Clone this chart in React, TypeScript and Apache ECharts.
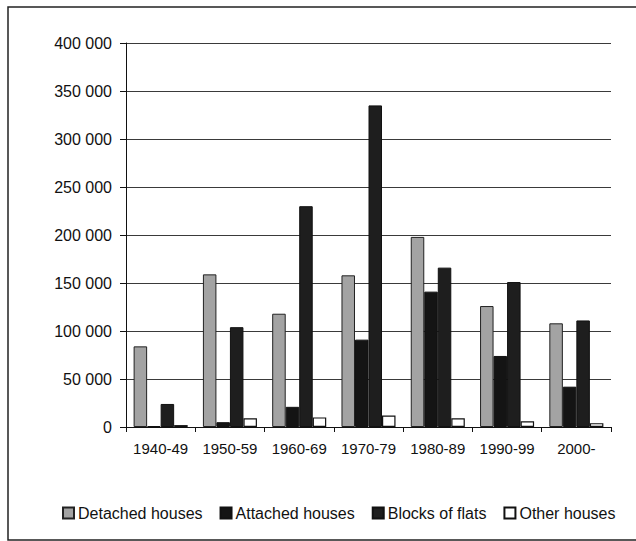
import React, { useEffect, useRef } from "react";
import * as echarts from "echarts";

const categories = ["1940-49", "1950-59", "1960-69", "1970-79", "1980-89", "1990-99", "2000-"];
const detached = [84000, 159000, 118000, 158000, 198000, 126000, 108000];
const attached = [1000, 5000, 21000, 91000, 141000, 74000, 42000];
const blocks = [24000, 104000, 230000, 335000, 166000, 151000, 111000];
const other = [2000, 9000, 10000, 12000, 9000, 6000, 4000];
const seriesNames = ["Detached houses", "Attached houses", "Blocks of flats", "Other houses"];

const fmt = (v: number) => {
  if (v === 0) return "0";
  const s = String(v);
  return s.slice(0, s.length - 3) + " " + s.slice(s.length - 3);
};

export default function App() {
  const ref = useRef<HTMLDivElement>(null);
  useEffect(() => {
    if (!ref.current) return;
    const chart = echarts.init(ref.current, null, { renderer: "svg" });
    const font = "'Liberation Sans', Arial, sans-serif";
    const barBase = { type: "bar", barGap: "0%", barCategoryGap: "22%" };
    chart.setOption({
      animation: false,
      backgroundColor: "#ffffff",
      textStyle: { fontFamily: font },
      graphic: [
        {
          type: "rect",
          shape: { x: 8, y: 7, width: 640, height: 533 },
          style: { fill: "none", stroke: "#222", lineWidth: 1.5 },
          z: 100,
        },
      ],
      grid: { left: 126, right: 25, top: 43, bottom: 114, containLabel: false },
      legend: {
        left: 57,
        top: 500,
        width: 600,
        itemWidth: 11,
        itemHeight: 11,
        itemGap: 17,
        icon: "rect",
        textStyle: { fontSize: 16, color: "#111", fontFamily: font, padding: [0, 0, 0, -1] },
        data: seriesNames,
      },
      xAxis: {
        type: "category",
        data: categories,
        axisLine: { lineStyle: { color: "#111", width: 1 } },
        axisTick: { show: true, alignWithLabel: false, length: 5, lineStyle: { color: "#111" } },
        axisLabel: { interval: 0, fontSize: 15, color: "#111", margin: 14, fontFamily: font },
      },
      yAxis: {
        type: "value",
        min: 0,
        max: 400000,
        interval: 50000,
        axisLine: { show: true, lineStyle: { color: "#111", width: 1 } },
        axisTick: { show: true, length: 6, lineStyle: { color: "#111" } },
        axisLabel: { fontSize: 16, color: "#111", margin: 14, fontFamily: font, formatter: fmt },
        splitLine: { lineStyle: { color: "#3a3a3a", width: 1 } },
      },
      series: [
        {
          ...barBase,
          name: seriesNames[0],
          data: detached,
          itemStyle: { color: "#a3a3a3", borderColor: "#222", borderWidth: 1 },
        },
        {
          ...barBase,
          name: seriesNames[1],
          data: attached,
          itemStyle: { color: "#141414", borderColor: "#111", borderWidth: 1 },
        },
        {
          ...barBase,
          name: seriesNames[2],
          data: blocks,
          itemStyle: { color: "#1e1e1e", borderColor: "#111", borderWidth: 1 },
        },
        {
          ...barBase,
          name: seriesNames[3],
          data: other,
          itemStyle: { color: "#ffffff", borderColor: "#111", borderWidth: 1.2 },
        },
      ],
    });
    return () => chart.dispose();
  }, []);
  return (
    <div
      ref={ref}
      style={{ position: "absolute", left: 0, top: 0, width: 636, height: 541 }}
    />
  );
}
